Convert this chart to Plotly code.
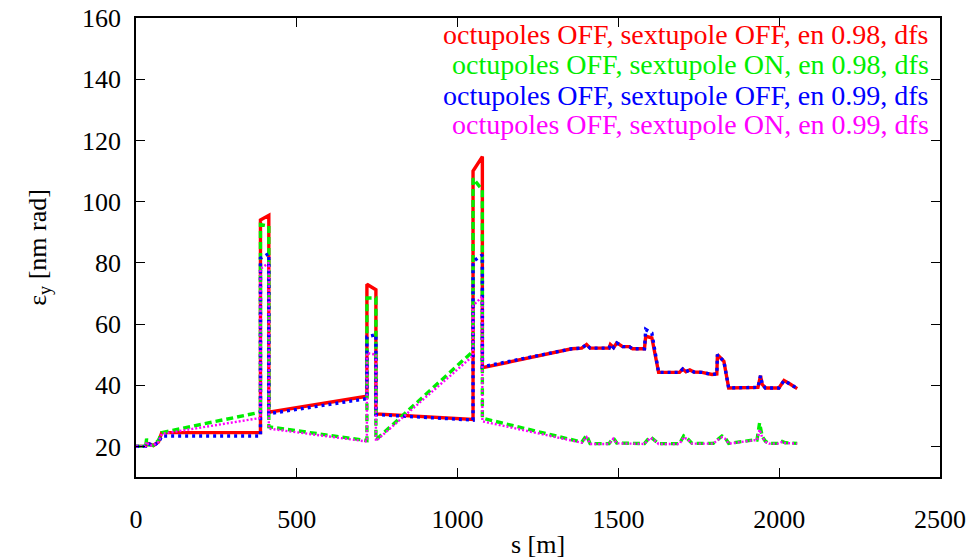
import plotly.graph_objects as go

# ---- data ----
s_off = [0, 30, 36, 54, 70, 80, 387, 387, 413, 413, 718, 718, 746, 746, 1048, 1048, 1077, 1077,
         1355, 1386, 1401, 1412, 1471, 1475, 1485, 1495, 1505, 1513, 1534, 1544, 1581, 1585, 1604,
         1625, 1690, 1700, 1710, 1722, 1735, 1760, 1791, 1806, 1808, 1817, 1828, 1843, 1922, 1934,
         1942, 1947, 1957, 1999, 2015, 2028, 2035, 2056]

emit_red = [20, 20, 21, 20.3, 21.5, 24.5, 24.5, 94, 95.5, 31.2, 36.4, 73, 71.2, 30.6, 28.8, 110, 114.7, 45.7,
            51.9, 52.1, 53.3, 52.1, 52.1, 53.3, 52.3, 53.8, 53.2, 52.6, 52.6, 51.9, 51.9, 56, 55.5,
            44.2, 44.2, 45.3, 44.4, 45, 44.3, 44.2, 43.5, 43.7, 50, 48.9, 47.8, 39.1, 39.3, 39.3,
            43.1, 40.3, 39.1, 39.1, 41.5, 40.5, 40.3, 38.9]

emit_blue = [20, 20, 21, 20.3, 21.3, 23.4, 23.4, 81.5, 83, 30.7, 35.6, 55.8, 56.5, 30.4, 28.6, 80.4, 82.6, 46,
             51.9, 52.1, 53.3, 52.1, 52.1, 53.3, 52.3, 53.8, 53.2, 52.6, 52.6, 51.9, 51.9, 58.2, 57,
             44.2, 44.2, 45.3, 44.4, 45, 44.3, 44.2, 43.5, 43.7, 50, 48.9, 47.8, 39.1, 39.3, 39.3,
             43.1, 40.3, 39.1, 39.1, 41.5, 40.5, 40.3, 38.9]

s_on = [0, 30, 33, 40, 54, 70, 80, 387, 387, 413, 413, 718, 718, 746, 746, 1048, 1048, 1077, 1077,
        1386, 1401, 1412, 1471, 1484, 1495, 1581, 1599, 1612, 1625, 1690, 1703, 1715, 1729, 1795,
        1811, 1822, 1832, 1843, 1921, 1931, 1939, 1947, 1957, 1968, 1999, 2009, 2019, 2056]

emit_green = [20, 20, 22.5, 20.5, 20.3, 22, 24.5, 31.2, 92.5, 92, 26.4, 21.9, 68.5, 68.5, 22.1, 51.1, 107.6, 103.8, 29.2,
              21.4, 23.6, 20.9, 20.9, 22.8, 21.1, 20.9, 23.2, 22.2, 20.9, 20.9, 23.4, 22.5, 21, 21,
              22.5, 23.4, 22.8, 21, 22.1, 22.1, 27.7, 23.3, 21.7, 21, 21, 21.6, 21.2, 21]

emit_magenta = [20, 20, 21.5, 20.3, 20.3, 21.5, 24.1, 29.3, 78, 80, 25.8, 21.6, 50.5, 50, 21.8, 49.6, 66, 69, 28.2,
                21.2, 23, 20.8, 20.8, 22.5, 21, 20.8, 22.8, 22, 20.8, 20.8, 23, 22.3, 20.9, 20.9,
                22.3, 23, 22.5, 20.9, 22, 22, 25.5, 23, 21.5, 20.9, 20.9, 21.5, 21.1, 20.9]

labels = ["octupoles OFF, sextupole OFF, en 0.98, dfs",
          "octupoles OFF, sextupole ON, en 0.98, dfs",
          "octupoles OFF, sextupole OFF, en 0.99, dfs",
          "octupoles OFF, sextupole ON, en 0.99, dfs"]
colors = ["#ff0000", "#00ee00", "#0000ff", "#ff00ff"]

x_ticks = [0, 500, 1000, 1500, 2000, 2500]
y_ticks = [20, 40, 60, 80, 100, 120, 140, 160]

FONT = "Liberation Serif, Times New Roman, Times, serif"

fig = go.Figure()
fig.add_trace(go.Scatter(x=s_off, y=emit_red, mode="lines", name=labels[0],
                         line=dict(color=colors[0], width=3.4)))
fig.add_trace(go.Scatter(x=s_on, y=emit_green, mode="lines", name=labels[1],
                         line=dict(color=colors[1], width=3.4, dash="7px,4px")))
fig.add_trace(go.Scatter(x=s_off, y=emit_blue, mode="lines", name=labels[2],
                         line=dict(color=colors[2], width=3.4, dash="3px,4px")))
fig.add_trace(go.Scatter(x=s_on, y=emit_magenta, mode="lines", name=labels[3],
                         line=dict(color=colors[3], width=2.4, dash="2px,2px")))

legend_y = [0.963, 0.898, 0.832, 0.767]
for lab, col, yy in zip(labels, colors, legend_y):
    fig.add_annotation(text=lab, x=0.989, y=yy, xref="paper", yref="paper",
                       xanchor="right", yanchor="middle", showarrow=False,
                       font=dict(family=FONT, size=28, color=col))

axis_common = dict(ticks="inside", ticklen=9, tickwidth=1.3, tickcolor="black",
                   showline=True, linecolor="black", linewidth=1.5, mirror="ticks",
                   showgrid=False, zeroline=False, automargin=False,
                   ticklabeloverflow="allow",
                   tickfont=dict(family=FONT, size=26, color="black"))

fig.update_xaxes(range=[0, 2500], tickvals=x_ticks, ticktext=[str(v) for v in x_ticks],
                 ticklabelstandoff=18,
                 title=dict(text="s [m]", font=dict(family=FONT, size=26, color="black"), standoff=5),
                 **axis_common)
fig.update_yaxes(range=[10, 160], tickvals=y_ticks, ticktext=[str(v) for v in y_ticks],
                 ticklabelstandoff=8,
                 title=dict(text="ε<sub>y</sub> [nm rad]", font=dict(family=FONT, size=26, color="black"),
                            standoff=28),
                 **axis_common)

fig.update_layout(width=972, height=559, margin=dict(l=136, r=32, t=18, b=82, autoexpand=False),
                  plot_bgcolor="white", paper_bgcolor="white", showlegend=False,
                  font=dict(family=FONT, size=26, color="black"))

# remove the browser's default 8px body margin so the figure fills the window exactly
fig.write_html("out.html", config={"displayModeBar": False},
               post_script="document.body.style.margin='0';")
